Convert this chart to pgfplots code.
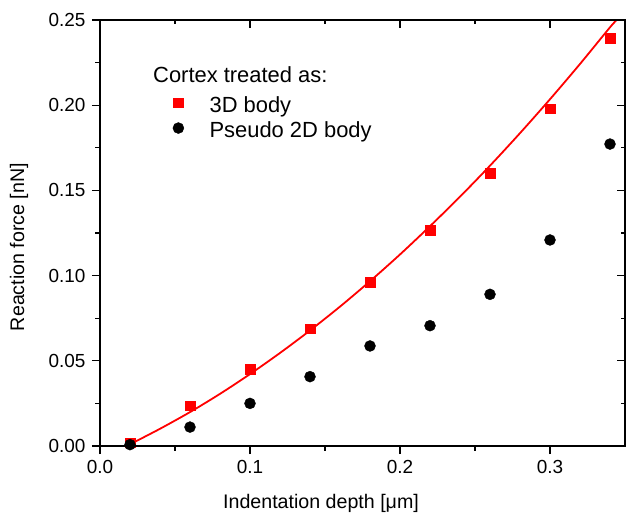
\documentclass[border=0pt]{standalone}
\usepackage{pgfplots}
\pgfplotsset{compat=1.18}
\usepackage{fontspec}
\setmainfont{Liberation Sans}
\pgfplotsset{mylegimg/.style={legend image code/.code={\path (-13bp,0bp) (31bp,0bp); \draw[##1] plot coordinates {(0bp,0.5ex)};}}}
\begin{document}
\begin{tikzpicture}
\begin{axis}[name=main,
  scale only axis, width=525bp, height=426bp,
  xmin=0, xmax=0.35, ymin=0, ymax=0.25,
  xtick={0,0.1,0.2,0.3}, ytick={0,0.05,0.1,0.15,0.2,0.25},
  minor x tick num=1, minor y tick num=1,
  xtick pos=left, ytick pos=left, tick align=outside,
  major tick length=8bp, minor tick length=4.5bp,
  every tick/.style={black, line width=1.2bp},
  axis line style={line width=1.2bp},
  /pgf/number format/assume math mode=true,
  tick label style={font=\fontsize{19}{22}\selectfont},
  xticklabel style={yshift=-3bp, /pgf/number format/.cd, fixed, fixed zerofill, precision=1},
  yticklabel style={xshift=-3bp, /pgf/number format/.cd, fixed, fixed zerofill, precision=2},
  xlabel={Indentation depth [μm]},
  ylabel={Reaction force [nN]},
  xlabel style={font=\fontsize{19.7}{23}\selectfont, at={(axis description cs:0.421,-0.134)}, anchor=center},
  ylabel style={font=\fontsize{19.7}{23}\selectfont, at={(axis description cs:-0.154,0.467)}, anchor=center},
  legend cell align=left,
  legend style={draw=none, fill=none, at={(rel axis cs:0.1238,0.8206)}, anchor=north west,
    font=\fontsize{22}{25}\selectfont, row sep=8bp, inner sep=0pt, nodes={inner sep=0pt}},
]
\addplot[only marks, mark=square*, color=red, mark size=4.8bp, mylegimg] coordinates {
(0.02,0.002) (0.06,0.0237) (0.10,0.0452) (0.14,0.0689) (0.18,0.0961)
(0.22,0.1268) (0.26,0.1602) (0.30,0.198) (0.34,0.2393)};
\addlegendentry{3D body}
\addplot[only marks, mark=*, color=black, mark size=5.5bp, mylegimg] coordinates {
(0.02,0.0008) (0.06,0.0111) (0.10,0.025) (0.14,0.0407) (0.18,0.0587)
(0.22,0.0706) (0.26,0.089) (0.30,0.1209) (0.34,0.1772)};
\addlegendentry{Pseudo 2D body}
\addplot[red, line width=1.8bp, smooth, forget plot] coordinates {
(0.02,0.0010) (0.04,0.0101) (0.06,0.0199) (0.08,0.0306) (0.10,0.0422)
(0.12,0.0546) (0.14,0.0678) (0.16,0.0818) (0.18,0.0967) (0.20,0.1124)
(0.22,0.1290) (0.24,0.1463) (0.26,0.1645) (0.28,0.1836) (0.30,0.2035)
(0.32,0.2242) (0.34,0.2457) (0.3445,0.2500)};
\node[anchor=west, inner sep=0pt, font=\fontsize{22}{25}\selectfont] at (rel axis cs:0.101,0.871) {Cortex treated as:};
\end{axis}
\begin{axis}[
  scale only axis, width=525bp, height=426bp,
  xmin=0, xmax=0.35, ymin=0, ymax=0.25,
  xtick={0,0.1,0.2,0.3}, ytick={0,0.05,0.1,0.15,0.2,0.25},
  minor x tick num=1, minor y tick num=1,
  xtick pos=right, ytick pos=right, tick align=inside,
  major tick length=8bp, minor tick length=4.5bp,
  every tick/.style={black, line width=1.2bp},
  axis line style={line width=1.2bp},
  xticklabels={}, yticklabels={},
]
\end{axis}
\pgfresetboundingbox
\path[use as bounding box] ([xshift=-100bp,yshift=-68bp]main.south west) rectangle ([xshift=4bp,yshift=20bp]main.north east);
\end{tikzpicture}
\end{document}
